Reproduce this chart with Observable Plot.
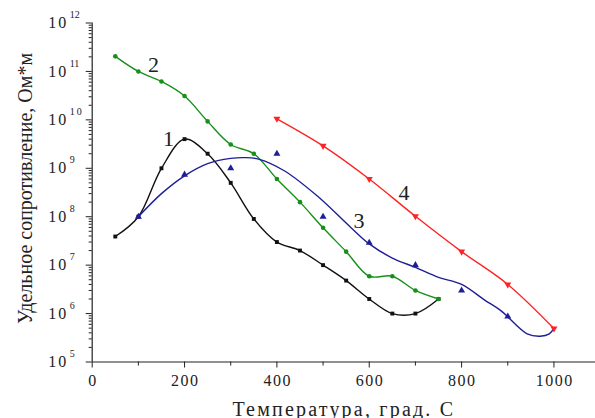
<!DOCTYPE html>
<html><head><meta charset="utf-8">
<script src="https://cdn.jsdelivr.net/npm/d3@7"></script>
<script src="https://cdn.jsdelivr.net/npm/@observablehq/plot@0.6"></script>
<style>body{margin:0;background:#fff} svg{display:block}</style>
</head><body><div id="chart"></div>
<script>
// Series 1 (black squares)
const s1T = [50,100,150,200,250,300,350,400,450,500,550,600,650,700,750];
const s1V = [3.9e7,1e8,1e9,4e9,2e9,5e8,9e7,3e7,2e7,1e7,4.8e6,2e6,1e6,1e6,2e6];
// Series 2 (green circles)
const s2T = [50,100,150,200,250,300,350,400,450,500,550,600,650,700,750];
const s2V = [2.05e11,1e11,6.2e10,3.1e10,9.3e9,3.1e9,2e9,6e8,2e8,5.9e7,1.9e7,5.9e6,5.9e6,3e6,2e6];
// Series 3 (blue triangles) measured points
const s3T = [100,200,300,400,500,600,700,800,900];
const s3V = [1e8,7.4e8,1e9,2e9,1e8,2.9e7,1e7,3e6,8.7e5];
// Series 3 smoothed fit curve
const s3FitT = [100,150,200,250,300,330,360,415,487,560,600,650,700,750,800,850,885,942,970,990,1000];
const s3FitV = [1e8,3e8,7e8,1.25e9,1.6e9,1.66e9,1.55e9,9e8,2.7e8,6e7,2.75e7,1.4e7,9e6,5.6e6,4e6,1.9e6,1.15e6,3.8e5,3.4e5,3.8e5,5e5];
// Series 4 (red down-triangles)
const s4T = [400,500,600,700,800,900,1000];
const s4V = [1.05e10,2.9e9,6e8,1.02e8,1.9e7,4e6,4.9e5];
// Curve labels
const labelText = ["1","2","3","4"];
const labelT = [165,133,578,675];
const labelV = [4.1e9,1.37e11,8e7,3.1e8];
// Axis ticks and titles
const xMajor = [0,200,400,600,800,1000];
const xMinor = [100,300,500,700,900];
const yExp = [5,6,7,8,9,10,11,12];
const yMajor = yExp.map(e => 10 ** e);
const yMinor = yExp.slice(0, -1).flatMap(e => [2,3,4,5,6,7,8,9].map(m => m * 10 ** e));
const xTitle = ["Температура, град. С"];
const yTitle = ["Удельное сопротивление, Ом*м"];

const c1 = "#111111", c2 = "#17901a", c3 = "#1e1e98", c4 = "#ff2222";
const axisColor = "#222";
const serif = "Liberation Serif, Times New Roman, serif";

const chart = Plot.plot({
  width: 595, height: 418,
  marginLeft: 91.7, marginRight: 0, marginTop: 22.5, marginBottom: 56.5,
  style: {fontFamily: serif, background: "white", color: axisColor},
  x: {domain: [0, 1090]},
  y: {type: "log", domain: [1e5, 1e12]},
  marks: [
    Plot.axisX(xMinor, {tickSize: 4, tickFormat: () => "", label: null, stroke: axisColor}),
    Plot.axisX(xMajor, {tickSize: 6, tickPadding: 7, tickFormat: d => String(d), fontSize: 16, fontFamily: serif, label: null, stroke: axisColor, fill: "#222"}),
    Plot.axisY(yMinor, {tickSize: 3, tickFormat: () => "", label: null, stroke: axisColor}),
    Plot.axisY(yMajor, {tickSize: 6, tickFormat: () => "", label: null, stroke: axisColor}),
    Plot.text(yMajor, {x: 0, y: d => d, text: () => "10", dx: -24, textAnchor: "end", lineAnchor: "middle", fontSize: 16, fontFamily: serif, fill: "#222"}),
    Plot.text(yExp, {x: 0, y: e => 10 ** e, text: e => String(e), dx: -22.5, dy: -8, textAnchor: "start", lineAnchor: "middle", fontSize: 10, fontFamily: serif, fill: "#222"}),
    Plot.ruleX([0], {stroke: axisColor, strokeWidth: 1.2}),
    Plot.ruleY([1e5], {stroke: axisColor, strokeWidth: 1.2}),
    Plot.text(xTitle, {frameAnchor: "bottom", text: d => d, dx: 0, dy: 53.5, textAnchor: "middle", lineAnchor: "bottom", fontSize: 20, fontFamily: serif, fill: "#222"}),
    Plot.text(yTitle, {frameAnchor: "left", text: d => d, dx: -60, dy: -4, rotate: -90, textAnchor: "middle", lineAnchor: "bottom", fontSize: 20, fontFamily: serif, fill: "#222"}),
    // Series 1
    Plot.line(s1V, {x: s1T, y: s1V, curve: "catmull-rom", stroke: c1, strokeWidth: 1.4}),
    Plot.dot(s1V, {x: s1T, y: s1V, symbol: "square", r: 2.2, fill: c1}),
    // Series 2
    Plot.line(s2V, {x: s2T, y: s2V, curve: "catmull-rom", stroke: c2, strokeWidth: 1.4}),
    Plot.dot(s2V, {x: s2T, y: s2V, symbol: "circle", r: 2.3, fill: c2}),
    // Series 3
    Plot.line(s3FitV, {x: s3FitT, y: s3FitV, curve: "catmull-rom", stroke: c3, strokeWidth: 1.4}),
    Plot.dot(s3V, {x: s3T, y: s3V, symbol: "triangle", r: 2.6, fill: c3}),
    // Series 4
    Plot.line(s4V, {x: s4T, y: s4V, curve: "catmull-rom", stroke: c4, strokeWidth: 1.4}),
    Plot.dot(s4V, {x: s4T, y: s4V, symbol: "triangle", rotate: 180, r: 2.6, fill: c4}),
    // Labels
    Plot.text(labelText, {x: labelT, y: labelV, text: d => d, fontSize: 22, fontFamily: serif, lineAnchor: "middle", fill: "#222"})
  ]
});
// The reference's lettering is slightly wider than Liberation Serif: widen with letter-spacing
const svg = d3.select(chart);
svg.selectAll("text").filter(function() { return this.textContent === xTitle[0]; })
  .style("letter-spacing", "2.2px");
svg.selectAll('g[aria-label="x-axis tick label"] text').filter(function() { return this.textContent !== ""; })
  .style("letter-spacing", "1.5px").attr("dx", "0.75");
svg.selectAll("text").filter(function() { return this.textContent === "10"; })
  .style("letter-spacing", "2px");
document.getElementById("chart").append(chart);
</script>
</body></html>
